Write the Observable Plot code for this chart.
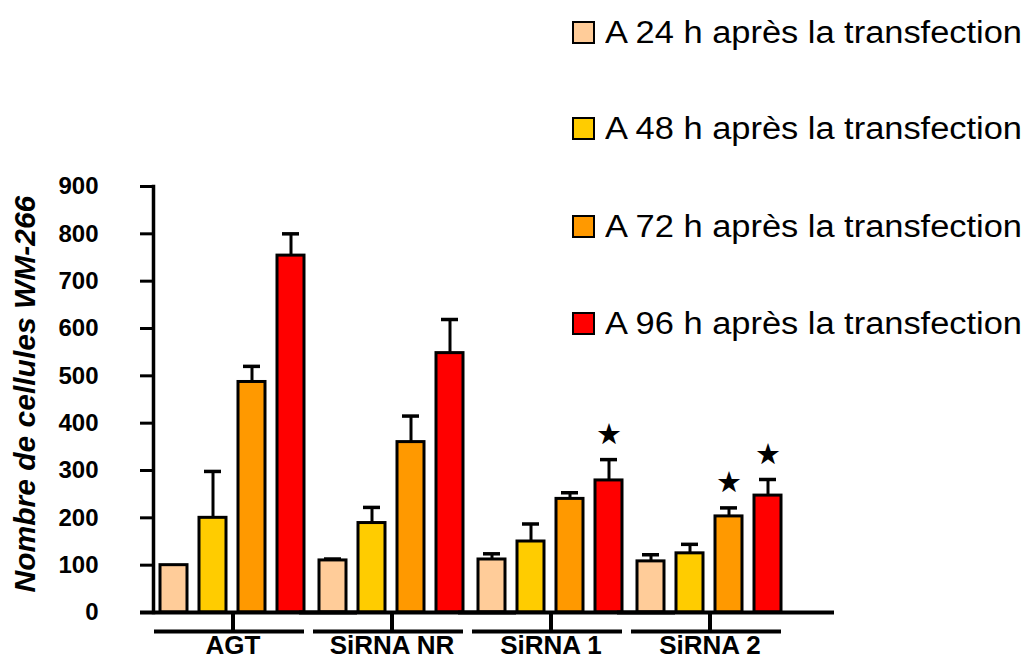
<!DOCTYPE html>
<html>
<head>
<meta charset="utf-8">
<script src="https://cdn.jsdelivr.net/npm/d3@7"></script>
<script src="https://cdn.jsdelivr.net/npm/@observablehq/plot@0.6"></script>
<style>
  body { margin: 0; background: white; }
  #wrap { position: relative; width: 1030px; height: 659px; overflow: hidden; background: white; }
  #chart { position: absolute; left: 0; top: 0; }
  .lg-row { position: absolute; left: 572px; display: flex; align-items: center; height: 23px; }
  .lg-sw { width: 19px; height: 19px; border: 2px solid #000; flex: none; }
  .lg-tx { margin-left: 10px; font-family: "Liberation Sans", Arial, sans-serif; font-size: 31px; color: #000;
           white-space: nowrap; transform: scaleX(1.11); transform-origin: left center; line-height: 23px; }
</style>
</head>
<body>
<div id="wrap"><div id="chart"></div><div id="legend"></div></div>
<script>
// ---- data ----
const groups = ["AGT", "SiRNA NR", "SiRNA 1", "SiRNA 2"];
const times = [
  "A 24 h après la transfection",
  "A 48 h après la transfection",
  "A 72 h après la transfection",
  "A 96 h après la transfection"
];
const colors = ["#FFCC99", "#FFCC00", "#FF9900", "#FF0000"];
const h24 = [100, 110, 112, 108];
const h48 = [200, 189, 150, 125];
const h72 = [487, 360, 240, 203];
const h96 = [754, 548, 279, 247];
const h24err = [0, 3, 12, 14];
const h48err = [98, 33, 37, 19];
const h72err = [33, 55, 13, 18];
const h96err = [46, 71, 44, 34];
// significance stars (★)
const h24star = [false, false, false, false];
const h48star = [false, false, false, false];
const h72star = [false, false, false, true];
const h96star = [false, false, true, true];
const yTicks = [0, 100, 200, 300, 400, 500, 600, 700, 800, 900];
const yLabel = "Nombre de cellules WM-266";

const series = [h24, h48, h72, h96];
const errs = [h24err, h48err, h72err, h96err];
const stars = [h24star, h48star, h72star, h96star];

const data = groups.flatMap((g, i) => times.map((t, j) => ({
  group: g, time: t, value: series[j][i], err: errs[j][i], star: stars[j][i]
})));
const withErr = data.filter(d => d.err > 0);

const chart = Plot.plot({
  width: 1030,
  height: 659,
  marginLeft: 152,
  marginRight: 240,
  marginTop: 186,
  marginBottom: 47,
  style: { fontFamily: "'Liberation Sans', Arial, sans-serif", background: "white", color: "black" },
  fx: { domain: groups, padding: 0, label: null },
  x: { domain: times, paddingInner: 0.3, paddingOuter: 0.14, axis: null },
  y: { domain: [0, 900], axis: null },
  color: { domain: times, range: colors },
  marks: [
    Plot.barY(data, { fx: "group", x: "time", y: "value", fill: "time", stroke: "black", strokeWidth: 3 }),
    Plot.ruleX(withErr, { fx: "group", x: "time", y1: "value", y2: d => d.value + d.err, stroke: "black", strokeWidth: 3 }),
    Plot.tickY(withErr, { fx: "group", x: "time", y: d => d.value + d.err, stroke: "black", strokeWidth: 3.5, insetLeft: 5, insetRight: 5 }),
    Plot.text(data.filter(d => d.star), { fx: "group", x: "time", y: d => d.value + d.err, text: () => "★", dy: -25, fontSize: 29, fontFamily: "DejaVu Sans", fill: "black" }),
    Plot.ruleY([0], { stroke: "black", strokeWidth: 4, insetLeft: -13, insetRight: -45 }),
    Plot.ruleY([0], { stroke: "black", strokeWidth: 4, dy: 19, insetLeft: 1, insetRight: 8 }),
    Plot.frame({ anchor: "left", facetAnchor: "left", stroke: "black", strokeWidth: 3.5 }),
    Plot.axisY({ ticks: yTicks, tickSize: 13, tickPadding: 42, strokeWidth: 3, fontSize: 24, fontWeight: "bold", label: null, tickFormat: d => String(d) }),
    Plot.axisFx({ anchor: "bottom", tickSize: 19, tickPadding: 4, strokeWidth: 4, fontSize: 26, fontWeight: "bold", label: null }),
    Plot.text([yLabel], { text: d => d, frameAnchor: "left", rotate: -90, dx: -128, dy: 193, fontSize: 30, fontWeight: "bold", fontStyle: "italic", fill: "black", facetAnchor: "left" })
  ]
});
document.getElementById("chart").appendChild(chart);

// ---- legend ----
const rowCenters = [32, 128, 226, 323];
const legend = document.getElementById("legend");
times.forEach((t, i) => {
  const row = document.createElement("div");
  row.className = "lg-row";
  row.style.top = (rowCenters[i] - 11.5) + "px";
  const sw = document.createElement("div");
  sw.className = "lg-sw";
  sw.style.background = colors[i];
  const tx = document.createElement("div");
  tx.className = "lg-tx";
  tx.textContent = t;
  row.appendChild(sw);
  row.appendChild(tx);
  legend.appendChild(row);
});
</script>
</body>
</html>
